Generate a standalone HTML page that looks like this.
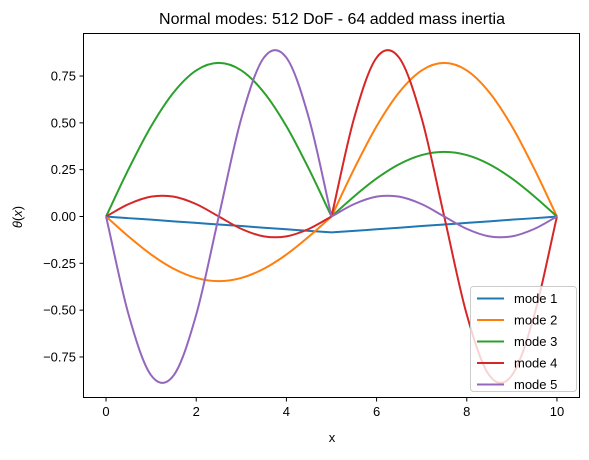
<!DOCTYPE html>
<html><head><meta charset="utf-8"><style>
body{margin:0;background:#fff}
svg{font-family:"Liberation Sans","DejaVu Sans",sans-serif}
</style></head><body>
<svg id="chart" width="589" height="455" viewBox="0 0 589 455" xmlns="http://www.w3.org/2000/svg">
<rect width="589" height="455" fill="#fff"/>
<text x="332" y="24" font-size="16" text-anchor="middle" fill="#000">Normal modes: 512 DoF - 64 added mass inertia</text>
<g id="plot"></g>
<rect x="83.5" y="33.5" width="496" height="364" fill="none" stroke="#000" stroke-width="1"/>
<text x="332" y="442" font-size="13" text-anchor="middle">x</text>
<text transform="translate(22,217) rotate(-90)" font-size="13" text-anchor="middle"><tspan font-style="italic">θ</tspan>(<tspan font-style="italic">x</tspan>)</text>
<g id="legend"></g>
</svg>
<script>
const xs=[0,0.5,1,1.5,2,2.5,3,3.5,4,4.5,5,5.5,6,6.5,7,7.5,8,8.5,9,9.5,10];
const mode1=[0,-0.009,-0.017,-0.026,-0.034,-0.043,-0.051,-0.060,-0.068,-0.077,-0.085,-0.077,-0.068,-0.060,-0.051,-0.043,-0.034,-0.026,-0.017,-0.009,0];
const mode2=[0,-0.107,-0.203,-0.279,-0.328,-0.345,-0.328,-0.279,-0.203,-0.107,0,0.253,0.482,0.663,0.780,0.82,0.780,0.663,0.482,0.253,0];
const mode3=[0,0.253,0.482,0.663,0.780,0.82,0.780,0.663,0.482,0.253,0,0.107,0.203,0.279,0.328,0.345,0.328,0.279,0.203,0.107,0];
const mode4=[0,0.066,0.106,0.106,0.066,0,-0.066,-0.106,-0.106,-0.066,0,0.524,0.848,0.848,0.524,0,-0.524,-0.848,-0.848,-0.524,0];
const mode5=[0,-0.524,-0.848,-0.848,-0.524,0,0.524,0.848,0.848,0.524,0,0.066,0.106,0.106,0.066,0,-0.066,-0.106,-0.106,-0.066,0];
const seriesNames=["mode 1","mode 2","mode 3","mode 4","mode 5"];
const xTicks=[0,2,4,6,8,10];
const yTicks=[-0.75,-0.5,-0.25,0,0.25,0.5,0.75];
const yTickLabels=["−0.75","−0.50","−0.25","0.00","0.25","0.50","0.75"];

const colors=["#1f77b4","#ff7f0e","#2ca02c","#d62728","#9467bd"];
const X=v=>83.5+(v+0.5)/11*496;
const Y=v=>216.5-v*187.3;
const NS="http://www.w3.org/2000/svg";
const plot=document.getElementById('plot');
function mk(tag,attrs,parent){const e=document.createElementNS(NS,tag);for(const k in attrs)e.setAttribute(k,attrs[k]);parent.appendChild(e);return e;}
xTicks.forEach(t=>{
  const l=mk('line',{x1:X(t),x2:X(t),y1:397.5,y2:401.5,stroke:'#000'},plot);
  
  
  const tx=mk('text',{x:X(t),y:416,'font-size':13,'text-anchor':'middle'},plot);tx.textContent=t;
  
  
});
yTicks.forEach((t,i)=>{
  const l=mk('line',{x1:79.5,x2:83.5,y1:Y(t),y2:Y(t),stroke:'#000'},plot);
  
  
  const tx=mk('text',{x:76,y:Y(t)+4.5,'font-size':13,'text-anchor':'end'},plot);tx.textContent=yTickLabels[i];
  
  
});
function segPath(px,py){
  let d='';const n=px.length;
  for(let i=0;i<n-1;i++){
    const p0=i>0?i-1:i,p3=i+2<n?i+2:i+1;
    const k0=(i>0?2:1),k1=(i+2<n?2:1);
    const c1x=px[i]+(px[i+1]-px[p0])/(3*k0),c1y=py[i]+(py[i+1]-py[p0])/(3*k0);
    const c2x=px[i+1]-(px[p3]-px[i])/(3*k1),c2y=py[i+1]-(py[p3]-py[i])/(3*k1);
    d+=`C${c1x},${c1y} ${c2x},${c2y} ${px[i+1]},${py[i+1]}`;
  }
  return 'M'+px[0]+','+py[0]+d;
}
[mode1,mode2,mode3,mode4,mode5].forEach((s,k)=>{
  const px=xs.map(X),py=s.map(Y);
  const d=segPath(px.slice(0,11),py.slice(0,11))+segPath(px.slice(10),py.slice(10));
  const p=mk('path',{d:d,fill:'none',stroke:colors[k],'stroke-width':2,'stroke-linejoin':'round'},plot);
  
  
});
const lg=document.getElementById('legend');
const box=mk('rect',{x:470.5,y:286.5,width:106,height:105,rx:3,fill:'#fff','fill-opacity':0.8,stroke:'#ccc'},lg);


seriesNames.forEach((n,k)=>{
  const y=298.5+k*21.5;
  const g=mk('g',{},lg);
  
  
  mk('line',{x1:477,x2:504,y1:y,y2:y,stroke:colors[k],'stroke-width':2},g);
  const t=mk('text',{x:514,y:y+4.5,'font-size':13},g);t.textContent=n;
});
</script>
</body></html>
